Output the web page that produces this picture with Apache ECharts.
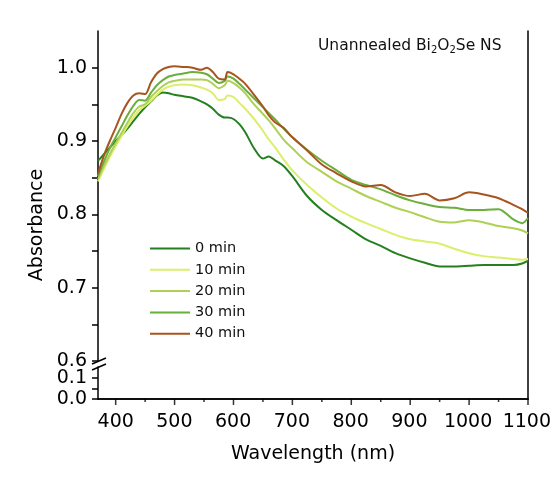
<!DOCTYPE html>
<html>
<head>
<meta charset="utf-8">
<script src="https://cdn.jsdelivr.net/npm/echarts@6/dist/echarts.min.js"></script>
<style>
  html, body { margin: 0; padding: 0; background: #fff; }
  #chart { width: 554px; height: 484px; }
</style>
</head>
<body>
<div id="chart"></div>
<script>
// wavelength (nm) sample points
const wavelength = [370, 380, 390, 400, 410, 420, 430, 440, 450, 460, 470, 480, 490, 500, 515, 530, 545, 555, 565, 575, 585, 590, 600, 610, 620, 635, 650, 660, 670, 685, 700, 725, 750, 775, 800, 825, 850, 875, 900, 925, 950, 975, 1000, 1025, 1050, 1075, 1090, 1100];

const abs0 = [0.873, 0.882, 0.891, 0.900, 0.908, 0.917, 0.927, 0.937, 0.946, 0.954, 0.962, 0.966, 0.965, 0.963, 0.961, 0.959, 0.954, 0.950, 0.944, 0.936, 0.932, 0.932, 0.930, 0.923, 0.912, 0.890, 0.876, 0.879, 0.874, 0.866, 0.852, 0.825, 0.806, 0.792, 0.779, 0.766, 0.757, 0.747, 0.740, 0.734, 0.729, 0.729, 0.730, 0.731, 0.731, 0.731, 0.733, 0.737];
const abs10 = [0.845, 0.862, 0.878, 0.893, 0.907, 0.920, 0.932, 0.942, 0.948, 0.955, 0.963, 0.970, 0.974, 0.976, 0.977, 0.976, 0.973, 0.970, 0.965, 0.956, 0.957, 0.962, 0.960, 0.952, 0.944, 0.930, 0.914, 0.902, 0.892, 0.875, 0.860, 0.840, 0.823, 0.808, 0.797, 0.788, 0.780, 0.772, 0.766, 0.763, 0.760, 0.753, 0.747, 0.743, 0.741, 0.739, 0.738, 0.739];
const abs20 = [0.848, 0.866, 0.882, 0.897, 0.911, 0.925, 0.938, 0.947, 0.950, 0.960, 0.968, 0.975, 0.980, 0.982, 0.984, 0.984, 0.984, 0.983, 0.978, 0.972, 0.976, 0.982, 0.979, 0.973, 0.965, 0.950, 0.937, 0.928, 0.918, 0.902, 0.890, 0.871, 0.858, 0.845, 0.835, 0.825, 0.817, 0.809, 0.803, 0.796, 0.790, 0.789, 0.792, 0.789, 0.784, 0.781, 0.778, 0.774];
const abs30 = [0.852, 0.872, 0.890, 0.905, 0.920, 0.935, 0.948, 0.956, 0.955, 0.966, 0.976, 0.983, 0.988, 0.990, 0.992, 0.994, 0.993, 0.991, 0.985, 0.979, 0.982, 0.988, 0.985, 0.978, 0.970, 0.958, 0.946, 0.938, 0.930, 0.917, 0.905, 0.888, 0.873, 0.860, 0.847, 0.840, 0.834, 0.826, 0.819, 0.814, 0.810, 0.809, 0.806, 0.806, 0.807, 0.793, 0.788, 0.795];
const abs40 = [0.855, 0.880, 0.900, 0.918, 0.937, 0.952, 0.962, 0.965, 0.964, 0.980, 0.992, 0.998, 1.001, 1.002, 1.001, 1.000, 0.997, 1.000, 0.994, 0.985, 0.984, 0.994, 0.991, 0.985, 0.978, 0.963, 0.947, 0.935, 0.926, 0.918, 0.905, 0.887, 0.868, 0.856, 0.845, 0.838, 0.840, 0.830, 0.825, 0.828, 0.819, 0.822, 0.830, 0.827, 0.822, 0.813, 0.807, 0.802];

const seriesNames = ['0 min', '10 min', '20 min', '30 min', '40 min'];
const seriesValues = [abs0, abs10, abs20, abs30, abs40];
const colors = ['#24801f', '#dcee6a', '#aed055', '#6aae3c', '#a8541f'];

const xMajorTicks = [400, 500, 600, 700, 800, 900, 1000, 1100];
const xMinorTicks = [450, 550, 650, 750, 850, 950, 1050];
const yUpperLabels = [0.6, 0.7, 0.8, 0.9, 1.0];
const yUpperTicks = [0.6, 0.65, 0.7, 0.75, 0.8, 0.85, 0.9, 0.95, 1.0];
const yLowerLabels = [0, 0.1];
const yLowerTicks = [0, 0.05, 0.1];

const xMin = 370, xMax = 1100, xFirstTick = 400, xStep = 100;
const font = 'DejaVu Sans';
const axisColor = '#000';

// plot box in pixels
const plotLeft = 98, plotRight = 26, plotTop = 31, plotBottom = 399;
const pxPerNm = (554 - plotLeft - plotRight) / (xMax - xMin);
const tickLeft = plotLeft + (xFirstTick - xMin) * pxPerNm;

let chart = echarts.init(document.getElementById('chart'));

const series = seriesNames.map(function (name, i) {
    return {
        name: name,
        type: 'line',
        xAxisIndex: 0,
        yAxisIndex: 0,
        symbol: 'none',
        smooth: 0.3,
        lineStyle: {width: 2, color: colors[i]},
        itemStyle: {color: colors[i]},
        data: wavelength.map(function (w, j) { return [w, seriesValues[i][j]]; })
    };
});

// x-axis tick marks, placed on the lower grid's scale (outward, below the axis line)
function tickSeries(name, values, len) {
    return {
        name: name,
        type: 'scatter',
        xAxisIndex: 1,
        yAxisIndex: 1,
        symbol: 'rect',
        symbolSize: [1.5, len],
        symbolOffset: [0, len / 2],
        clip: false,
        silent: true,
        z: 10,
        itemStyle: {color: axisColor},
        data: values.map(function (v) { return [v, 0]; })
    };
}
series.push(tickSeries('xMajor', xMajorTicks, 6));
series.push(tickSeries('xMinor', xMinorTicks, 3));

chart.setOption({
    animation: false,
    backgroundColor: '#fff',
    grid: [
        {left: plotLeft, right: plotRight, top: plotTop, height: 330},   // upper part
        {left: plotLeft, right: plotRight, top: 367, height: 32},        // lower part below the break
        {left: plotLeft, right: plotRight, top: plotTop, height: plotBottom - plotTop},  // frame
        {left: tickLeft, right: plotRight, top: plotTop, height: plotBottom - plotTop}   // x labels
    ],
    xAxis: [
        {gridIndex: 0, type: 'value', min: xMin, max: xMax, show: false},
        {
            gridIndex: 1, type: 'value', min: xMin, max: xMax, position: 'bottom',
            name: 'Wavelength (nm)', nameLocation: 'middle', nameGap: 46,
            nameTextStyle: {fontFamily: font, fontSize: 19, color: axisColor},
            axisLine: {lineStyle: {color: axisColor, width: 1.5}},
            axisTick: {show: false},
            axisLabel: {show: false},
            splitLine: {show: false}
        },
        {
            gridIndex: 2, type: 'value', min: xMin, max: xMax, position: 'top',
            axisLine: {lineStyle: {color: axisColor, width: 1.5}},
            axisTick: {show: false}, axisLabel: {show: false}, splitLine: {show: false}
        },
        {
            gridIndex: 3, type: 'value', min: xFirstTick, max: xMax, interval: xStep,
            axisLine: {show: false},
            axisTick: {show: false},
            axisLabel: {margin: 14, fontFamily: font, fontSize: 19, color: axisColor,
                formatter: function (v) { return String(v); }},
            splitLine: {show: false}
        }
    ],
    yAxis: [
        {
            gridIndex: 0, type: 'value', min: 0.6, max: 1.05,
            axisLine: {lineStyle: {color: axisColor, width: 1.5}},
            axisTick: {customValues: yUpperTicks, length: 6, lineStyle: {color: axisColor, width: 1.5}},
            axisLabel: {
                customValues: yUpperLabels, margin: 11, fontFamily: font, fontSize: 19, color: axisColor,
                formatter: function (v) { return v.toFixed(1); }
            },
            splitLine: {show: false}
        },
        {
            gridIndex: 1, type: 'value', min: 0, max: 0.15,
            axisLine: {lineStyle: {color: axisColor, width: 1.5}},
            axisTick: {customValues: yLowerTicks, length: 6, lineStyle: {color: axisColor, width: 1.5}},
            axisLabel: {
                customValues: yLowerLabels, margin: 11, fontFamily: font, fontSize: 19, color: axisColor,
                formatter: function (v) { return v.toFixed(1); }
            },
            splitLine: {show: false}
        },
        {
            gridIndex: 2, type: 'value', min: 0, max: 1, position: 'right',
            axisLine: {lineStyle: {color: axisColor, width: 1.5}},
            axisTick: {show: false}, axisLabel: {show: false}, splitLine: {show: false}
        },
        {gridIndex: 3, type: 'value', min: 0, max: 1, show: false}
    ],
    legend: {
        data: seriesNames,
        orient: 'vertical',
        left: 145,
        top: 235,
        icon: 'rect',
        itemWidth: 40,
        itemHeight: 2,
        itemGap: 4.3,
        textStyle: {fontFamily: font, fontSize: 14.5, lineHeight: 17, color: '#111'}
    },
    graphic: [
        {
            type: 'text', left: 318, top: 38,
            style: {
                text: 'Unannealed Bi{s|2}O{s|2}Se NS',
                font: '15.5px "DejaVu Sans"', fill: '#111',
                rich: {s: {fontSize: 10, fontFamily: font, verticalAlign: 'bottom', padding: [8, 0, 0, 0]}}
            }
        },
        {
            type: 'text', x: 37, y: 225, rotation: Math.PI / 2,
            style: {text: 'Absorbance', font: '19px "DejaVu Sans"', fill: '#000', align: 'center', verticalAlign: 'middle'}
        },
        // axis break marks
        {type: 'line', shape: {x1: 92, y1: 364, x2: 106, y2: 358}, style: {stroke: '#000', lineWidth: 1.5}},
        {type: 'line', shape: {x1: 92, y1: 370, x2: 106, y2: 364}, style: {stroke: '#000', lineWidth: 1.5}}
    ],
    series: series
});
</script>
</body>
</html>
